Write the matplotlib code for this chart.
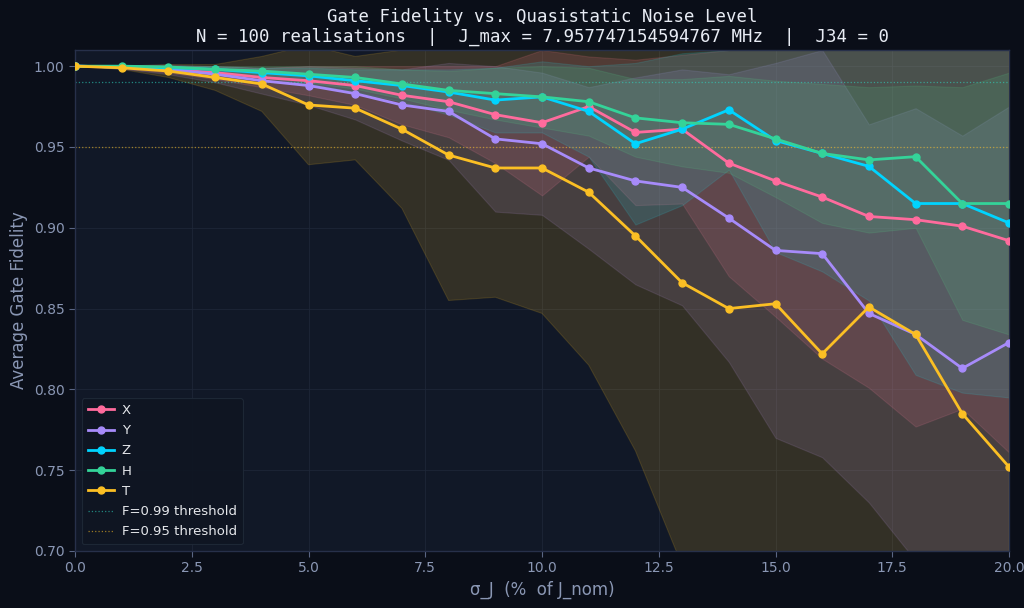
import numpy as np
import matplotlib
matplotlib.use("Agg")
import matplotlib.pyplot as plt

sigma = list(range(21))

gate_names = ["X", "Y", "Z", "H", "T"]
gate_colors = ["#ff6b9d", "#a78bfa", "#00d4ff", "#34d399", "#fbbf24"]

mean_X = [1.000, 0.9995, 0.998, 0.996, 0.993, 0.991, 0.988, 0.982, 0.978, 0.970, 0.965,
          0.975, 0.959, 0.961, 0.940, 0.929, 0.919, 0.907, 0.905, 0.901, 0.892]
mean_Y = [1.000, 0.9995, 0.998, 0.995, 0.991, 0.988, 0.983, 0.976, 0.972, 0.955, 0.952,
          0.937, 0.929, 0.925, 0.906, 0.886, 0.884, 0.847, 0.834, 0.813, 0.829]
mean_Z = [1.000, 0.9995, 0.999, 0.998, 0.996, 0.994, 0.991, 0.988, 0.984, 0.979, 0.981,
          0.972, 0.952, 0.961, 0.973, 0.954, 0.946, 0.938, 0.915, 0.915, 0.903]
mean_H = [1.000, 1.000, 0.9995, 0.998, 0.997, 0.995, 0.993, 0.989, 0.985, 0.983, 0.981,
          0.978, 0.968, 0.965, 0.964, 0.955, 0.946, 0.942, 0.944, 0.915, 0.915]
mean_T = [1.000, 0.999, 0.997, 0.993, 0.989, 0.976, 0.974, 0.961, 0.945, 0.937, 0.937,
          0.922, 0.895, 0.866, 0.850, 0.853, 0.822, 0.851, 0.834, 0.785, 0.752]

std_X = [0.0, 0.001, 0.002, 0.004, 0.006, 0.009, 0.012, 0.018, 0.022, 0.030, 0.045,
         0.031, 0.045, 0.046, 0.070, 0.084, 0.100, 0.106, 0.128, 0.113, 0.131]
std_Y = [0.0, 0.001, 0.003, 0.005, 0.008, 0.012, 0.016, 0.022, 0.030, 0.045, 0.044,
         0.050, 0.064, 0.073, 0.089, 0.116, 0.126, 0.117, 0.140, 0.144, 0.146]
std_Z = [0.0, 0.0005, 0.001, 0.002, 0.003, 0.005, 0.007, 0.010, 0.014, 0.020, 0.022,
         0.028, 0.050, 0.047, 0.037, 0.069, 0.073, 0.083, 0.106, 0.117, 0.108]
std_H = [0.0, 0.0005, 0.001, 0.002, 0.003, 0.005, 0.007, 0.009, 0.012, 0.016, 0.019,
         0.021, 0.024, 0.027, 0.030, 0.036, 0.043, 0.045, 0.044, 0.072, 0.081]
std_T = [0.0, 0.001, 0.004, 0.008, 0.017, 0.037, 0.032, 0.049, 0.090, 0.080, 0.090,
         0.107, 0.133, 0.175, 0.190, 0.200, 0.210, 0.200, 0.220, 0.240, 0.270]

means = [mean_X, mean_Y, mean_Z, mean_H, mean_T]
stds = [std_X, std_Y, std_Z, std_H, std_T]

thresholds = [0.99, 0.95]
threshold_labels = ["F=0.99 threshold", "F=0.95 threshold"]
threshold_colors = ["#2dd4bf", "#fbbf24"]

FIG_BG = "#0a0e18"
AX_BG = "#111827"
TXT = "#8a97b4"

fig = plt.figure(figsize=(10.24, 6.08), dpi=100, facecolor=FIG_BG)
ax = fig.add_axes([75/1024, 1-551/608, (1009-75)/1024, (551-50)/608])
ax.set_facecolor(AX_BG)

x = np.array(sigma)
for name, col, m, s in zip(gate_names, gate_colors, means, stds):
    m = np.array(m); s = np.array(s)
    ax.fill_between(x, m - s, m + s, color=col, alpha=0.15, linewidth=0.8, zorder=1)

for name, col, m in zip(gate_names, gate_colors, means):
    ax.plot(x, m, color=col, lw=2.0, marker="o", markersize=5, label=name, zorder=4)

for t, lab, c in zip(thresholds, threshold_labels, threshold_colors):
    ax.axhline(t, color=c, lw=0.9, ls=":", alpha=0.6, label=lab, zorder=2)

ax.set_xlim(0, 20)
ax.set_ylim(0.70, 1.01)
ax.set_xticks(np.arange(0, 20.1, 2.5))
ax.set_yticks(np.arange(0.70, 1.001, 0.05))
ax.xaxis.set_major_formatter(matplotlib.ticker.FormatStrFormatter("%.1f"))
ax.yaxis.set_major_formatter(matplotlib.ticker.FormatStrFormatter("%.2f"))
ax.grid(True, color="#1e2738", lw=0.7, alpha=0.8, zorder=0)
ax.set_axisbelow(True)
ax.tick_params(colors=TXT, labelsize=10, length=4, color="#5a6684")
for sp in ax.spines.values():
    sp.set_color("#27304a")
    sp.set_linewidth(1.0)

ax.set_xlabel("σ_J  (%  of J_nom)", color=TXT, fontsize=12)
ax.set_ylabel("Average Gate Fidelity", color=TXT, fontsize=12)
ax.set_title("Gate Fidelity vs. Quasistatic Noise Level\n"
             "N = 100 realisations  |  J_max = 7.957747154594767 MHz  |  J34 = 0",
             family="DejaVu Sans Mono", color="#e8ecf4", fontsize=12.5, pad=6,
             linespacing=1.15)

leg = ax.legend(loc="lower left", fontsize=9.5, facecolor="#0f1522", edgecolor="#1f2937",
                framealpha=0.92, labelcolor="#e5e7eb", borderpad=0.45, handlelength=2.0,
                handletextpad=0.6, labelspacing=0.55)
leg.get_frame().set_linewidth(0.8)

fig.savefig("out.png", dpi=100, facecolor=FIG_BG)
